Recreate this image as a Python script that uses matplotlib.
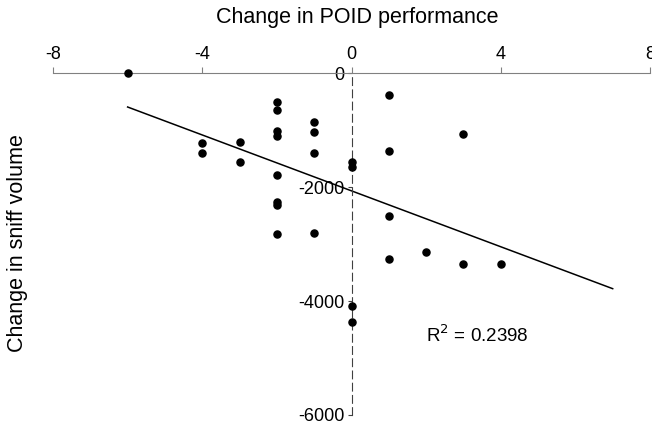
import numpy as np
import matplotlib
matplotlib.use("Agg")
import matplotlib.pyplot as plt

plt.rcParams['font.family'] = ['Liberation Sans', 'DejaVu Sans']
plt.rcParams['axes.unicode_minus'] = False

# change in POID performance vs change in sniff volume
poid = [-6, -4, -4, -3, -3,
        -2, -2, -2, -2, -2, -2, -2, -2,
        -1, -1, -1, -1,
        0, 0, 0, 0,
        1, 1, 1, 1,
        2, 3, 3, 4]
sniff = [0, -1233, -1409, -1205, -1556,
         -503, -649, -1018, -1105, -1789, -2257, -2316, -2825,
         -866, -1029, -1398, -2813,
         -1556, -1643, -4088, -4374,
         -386, -1368, -2509, -3269,
         -3146, -1076, -3345, -3345]

x_ticks = [-8, -4, 0, 4, 8]
y_ticks = [0, -2000, -4000, -6000]
trend_x = [-6, 7]

slope, intercept = np.polyfit(poid, sniff, 1)

fig = plt.figure(figsize=(6.52, 4.25), dpi=100)
ax = fig.add_axes([53 / 652, 1 - 415 / 425, 597 / 652, 342 / 425])

ax.scatter(poid, sniff, s=26, color='black', zorder=3, clip_on=False)
tx = np.array(trend_x)
ax.plot(tx, slope * tx + intercept, color='black', lw=1.1)

ax.set_xlim(-8, 8)
ax.set_ylim(-6000, 0)
ax.set_xticks(x_ticks)
ax.set_yticks(y_ticks)

ax.spines['right'].set_visible(False)
ax.spines['bottom'].set_visible(False)
ax.spines['top'].set_color('#808080')
ax.spines['left'].set_position(('data', 0))
ax.spines['left'].set_linestyle((0, (7, 4)))
ax.spines['left'].set_color('#404040')

ax.xaxis.tick_top()
ax.tick_params(axis='x', direction='out', length=4, color='#808080',
               labelsize=13, pad=3)
ax.tick_params(axis='y', direction='out', length=3, color='#404040',
               labelsize=13, pad=2)

fig.text(357 / 652, 1 - 17 / 425, 'Change in POID performance',
         fontsize=15.5, ha='center', va='center')
fig.text(18 / 652, 1 - 243 / 425, 'Change in sniff volume', fontsize=15.5,
         rotation=90, ha='center', va='center')
ax.text(2.0, -4600, r'R$^2$ = 0.2398', fontsize=13.5, va='center')

fig.savefig('out.png', dpi=100)
